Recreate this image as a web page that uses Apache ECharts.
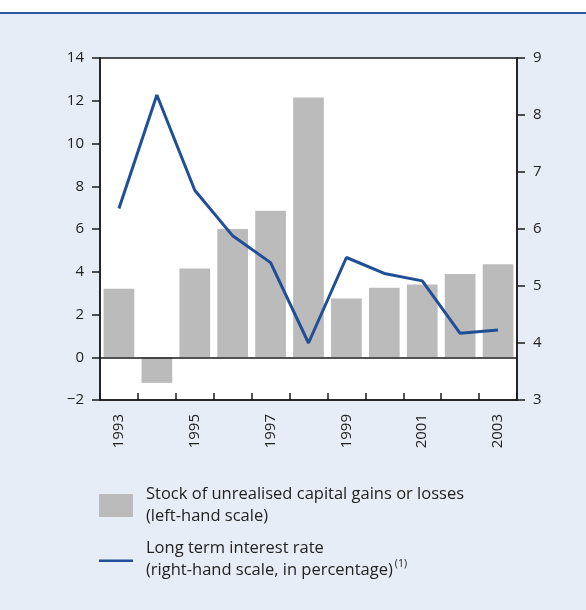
<!DOCTYPE html>
<html>
<head>
<meta charset="utf-8">
<script src="https://cdn.jsdelivr.net/npm/echarts@6/dist/echarts.min.js"></script>
<style>
  html, body { margin: 0; padding: 0; background: #fff; }
  #chart { width: 586px; height: 610px; }
</style>
</head>
<body>
<div id="chart"></div>
<script>
// data
var years = ['1993', '1994', '1995', '1996', '1997', '1998', '1999', '2000', '2001', '2002', '2003'];
var gains = [3.2, -1.2, 4.15, 6.0, 6.85, 12.15, 2.75, 3.25, 3.4, 3.9, 4.35];
var rates = [6.36, 8.35, 6.68, 5.88, 5.41, 4.0, 5.5, 5.22, 5.09, 4.17, 4.23];

var FONT = '"Open Sans", "Noto Sans", sans-serif';
var LINE_BLUE = '#214f97';
var BAR_GREY = '#bbbbbb';

var chart = echarts.init(document.getElementById('chart'));

chart.setOption({
  backgroundColor: '#fff',
  animation: false,
  textStyle: { fontFamily: FONT },
  grid: {
    left: 100, right: 69, top: 58, bottom: 210,
    show: true, backgroundColor: '#fff',
    borderColor: '#1a1a1a', borderWidth: 1.5
  },
  xAxis: {
    type: 'category',
    data: years,
    axisLine: { show: true, onZero: false, lineStyle: { color: '#1a1a1a', width: 1.5 } },
    axisTick: { show: true, inside: true, length: 7, interval: 0, lineStyle: { color: '#1a1a1a', width: 1.5 } },
    axisLabel: { interval: 1, rotate: 90, margin: 14, color: '#222', fontSize: 15, fontFamily: FONT }
  },
  yAxis: [{
    type: 'value',
    min: -2, max: 14, interval: 2,
    splitLine: { show: false },
    axisLine: { show: true, lineStyle: { color: '#1a1a1a', width: 1.5 } },
    axisTick: { show: true, length: 8, lineStyle: { color: '#1a1a1a', width: 1.5 } },
    axisLabel: {
      margin: 16, color: '#222', fontSize: 15, fontFamily: FONT,
      formatter: function (v) { return v < 0 ? '\u2212' + Math.abs(v) : v; }
    }
  }, {
    type: 'value',
    min: 3, max: 9, interval: 1,
    splitLine: { show: false },
    axisLine: { show: true, lineStyle: { color: '#1a1a1a', width: 1.5 } },
    axisTick: { show: true, length: 8, lineStyle: { color: '#1a1a1a', width: 1.5 } },
    axisLabel: { margin: 16, color: '#222', fontSize: 15, fontFamily: FONT }
  }],
  series: [{
    type: 'bar',
    data: gains,
    yAxisIndex: 0,
    barCategoryGap: '19%',
    itemStyle: { color: BAR_GREY },
    markLine: {
      silent: true, symbol: 'none', label: { show: false },
      lineStyle: { color: '#1a1a1a', width: 1.5, type: 'solid' },
      data: [{ yAxis: 0 }]
    }
  }, {
    type: 'line',
    data: rates,
    yAxisIndex: 1,
    symbol: 'none',
    lineStyle: { color: LINE_BLUE, width: 3 }
  }],
  graphic: [
    // light blue panel and top rule
    { type: 'rect', z: -10, shape: { x: 0, y: 14, width: 586, height: 596 }, style: { fill: '#e7edf6' } },
    { type: 'rect', z: -9, shape: { x: 0, y: 12, width: 586, height: 2 }, style: { fill: '#2c5a9c' } },
    // legend
    { type: 'rect', shape: { x: 99, y: 494, width: 34, height: 23 }, style: { fill: BAR_GREY } },
    { type: 'text', x: 146, y: 483, style: {
        text: 'Stock of unrealised capital gains or losses\n(left-hand scale)',
        font: '16.5px ' + FONT, fill: '#222', lineHeight: 22 } },
    { type: 'rect', shape: { x: 99, y: 559.5, width: 34, height: 2.5 }, style: { fill: LINE_BLUE } },
    { type: 'text', x: 146, y: 537, style: {
        text: '{a|Long term interest rate}\n{a|(right-hand scale, in percentage)}{s|(1)}',
        fill: '#222',
        rich: {
          a: { fontSize: 16.5, fontFamily: FONT, color: '#222', lineHeight: 22 },
          s: { fontSize: 10.5, fontFamily: FONT, color: '#222', verticalAlign: 'top', lineHeight: 12, padding: [0, 0, 8, 2] }
        } } }
  ]
});
</script>
</body>
</html>
